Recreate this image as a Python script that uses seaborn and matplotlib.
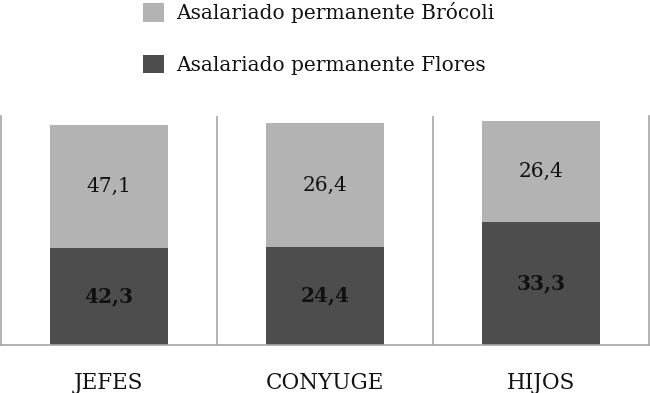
import numpy as np
import pandas as pd
import seaborn as sns
import matplotlib.pyplot as plt

# categories and segment labels as printed on the chart
categories = ['JEFES', 'CONYUGE', 'HIJOS']
flores_labels = ['42,3', '24,4', '33,3']
brocoli_labels = ['47,1', '26,4', '26,4']
# segment heights as drawn (share of the 0-100 axis)
flores_height = [42.1, 42.8, 53.7]
brocoli_height = [54.0, 54.0, 44.2]

LIGHT = '#b3b3b3'
DARK = '#4d4d4d'
GRID = '#a6a6a6'

sns.set_theme(style='white')
plt.rcParams['font.family'] = ['DejaVu Serif']

df = pd.DataFrame({
    'cat': categories,
    'flores': flores_height,
    'brocoli': brocoli_height,
})
df['total'] = df['flores'] + df['brocoli']

fig = plt.figure(figsize=(6.5, 3.93), dpi=100)
ax = fig.add_axes([0.0015, 0.1234, 0.997, 0.5814])

sns.barplot(data=df, x='cat', y='total', color=LIGHT, width=0.55,
            saturation=1, linewidth=0, ax=ax,
            label='Asalariado permanente Brócoli')
sns.barplot(data=df, x='cat', y='flores', color=DARK, width=0.55,
            saturation=1, linewidth=0, ax=ax,
            label='Asalariado permanente Flores')

for i in range(len(categories)):
    ax.text(i, df['flores'][i] / 2, flores_labels[i], ha='center', va='center',
            fontsize=14.5, fontweight='bold', color='#111111')
    ax.text(i, df['flores'][i] + df['brocoli'][i] / 2, brocoli_labels[i],
            ha='center', va='center', fontsize=14.5, color='#111111')

ax.set_xlim(-0.5, 2.5)
ax.set_ylim(0, 100)
ax.set_xlabel('')
ax.set_ylabel('')
ax.set_yticks([])
ax.tick_params(axis='x', length=0, pad=20, labelsize=15.5, labelcolor='#111111')
for x in [0.5, 1.5]:
    ax.axvline(x, color=GRID, lw=1.2)
ax.spines['top'].set_visible(False)
for s in ['left', 'right', 'bottom']:
    ax.spines[s].set_color(GRID)
    ax.spines[s].set_linewidth(1.2)

if ax.legend_:
    ax.legend_.remove()
handles, labels = ax.get_legend_handles_labels()
fig.legend(handles, labels, loc='upper left', bbox_to_anchor=(0.192, 1.04),
           frameon=False, fontsize=14.5, labelspacing=1.55, handlelength=1.05,
           handleheight=1.05, handletextpad=0.6, labelcolor='#111111')

fig.savefig('out.png', dpi=100)
